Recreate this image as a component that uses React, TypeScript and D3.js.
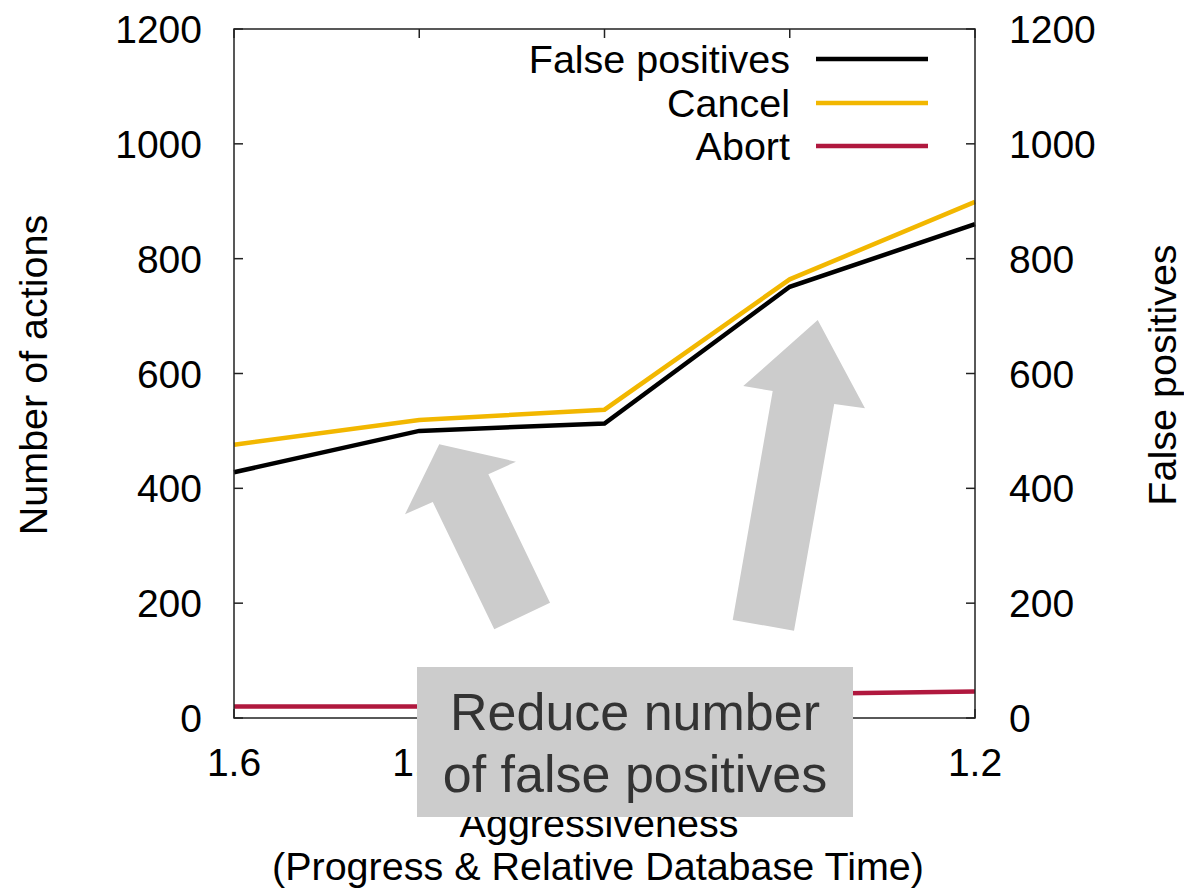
import React from "react";
import * as d3 from "d3";

const xValues = [1.6, 1.5, 1.4, 1.3, 1.2];
const falsePositives = [428, 500, 513, 751, 860];
const cancel = [476, 519, 537, 764, 899];
const abort = [20, 20, 28, 42, 46];

const yTicks = [0, 200, 400, 600, 800, 1000, 1200];
const xTicks = [1.6, 1.5, 1.4, 1.3, 1.2];
const xTickLabels = ["1.6", "1.5", "1.4", "1.3", "1.2"];

const seriesNames = ["False positives", "Cancel", "Abort"];
const seriesColors = ["#000000", "#f2b700", "#b0183e"];

// annotation arrows in data units (x = aggressiveness, y = count)
const arrow1X = [1.4892, 1.4478, 1.4627, 1.4294, 1.4595, 1.4927, 1.5077];
const arrow1Y = [476.7, 446.4, 424.4, 200.8, 154.5, 376.2, 354.8];
const arrow2X = [1.2849, 1.2594, 1.276, 1.2977, 1.3308, 1.3092, 1.3251];
const arrow2Y = [693.1, 539.4, 546.8, 152.0, 170.7, 569.5, 578.2];

const W = 1184;
const H = 890;
const left = 234;
const right = 975;
const top = 29;
const bottom = 718;
const FONT = "'Liberation Sans', Arial, Helvetica, sans-serif";
const FS = 39;
const FT = 39.5;

export default function App() {
  const x = d3.scaleLinear().domain([1.6, 1.2]).range([left, right]);
  const y = d3.scaleLinear().domain([0, 1200]).range([bottom, top]);

  const line = d3
    .line<number>()
    .x((_, i) => x(xValues[i]))
    .y((d) => y(d))
    .curve(d3.curveLinear);

  const series = [falsePositives, cancel, abort];
  const tickLen = 9;

  const arrowPath = (xs: number[], ys: number[]) =>
    "M" + xs.map((v, i) => `${x(v)},${y(ys[i])}`).join("L") + "Z";

  return (
    <svg
      width={W}
      height={H}
      style={{ position: "absolute", left: 0, top: 0, background: "#fff" }}
      fontFamily={FONT}
    >
      <rect x={0} y={0} width={W} height={H} fill="#fff" />
      {/* ticks */}
      <g stroke="#222" strokeWidth={1.5}>
        {yTicks.map((t) => (
          <g key={"y" + t}>
            <line x1={left} x2={left + tickLen} y1={y(t)} y2={y(t)} />
            <line x1={right} x2={right - tickLen} y1={y(t)} y2={y(t)} />
          </g>
        ))}
        {xTicks.map((t) => (
          <g key={"x" + t}>
            <line x1={x(t)} x2={x(t)} y1={bottom} y2={bottom - tickLen} />
            <line x1={x(t)} x2={x(t)} y1={top} y2={top + tickLen} />
          </g>
        ))}
      </g>
      {/* tick labels */}
      <g fontSize={FS} fill="#000">
        {yTicks.map((t) => (
          <g key={"yl" + t}>
            <text x={202} y={y(t)} dy="0.36em" textAnchor="end">
              {t}
            </text>
            <text x={1009} y={y(t)} dy="0.36em" textAnchor="start">
              {t}
            </text>
          </g>
        ))}
        {xTicks.map((t, i) => (
          <text key={"xl" + t} x={x(t)} y={776} textAnchor="middle">
            {xTickLabels[i]}
          </text>
        ))}
      </g>
      {/* axis titles */}
      <g fontSize={FT} fill="#000">
        <text
          transform={`translate(47,375) rotate(-90)`}
          textAnchor="middle"
        >
          Number of actions
        </text>
        <text
          transform={`translate(1176,375) rotate(-90)`}
          textAnchor="middle"
        >
          False positives
        </text>
        <text x={599} y={837} textAnchor="middle">
          Aggressiveness
        </text>
        <text x={598} y={880} textAnchor="middle">
          (Progress &amp; Relative Database Time)
        </text>
      </g>
      {/* data lines */}
      {series.map((s, i) => (
        <path
          key={seriesNames[i]}
          d={line(s) || ""}
          fill="none"
          stroke={seriesColors[i]}
          strokeWidth={4.5}
          strokeLinejoin="miter"
        />
      ))}
      {/* frame */}
      <rect
        x={left}
        y={top}
        width={right - left}
        height={bottom - top}
        fill="none"
        stroke="#222"
        strokeWidth={1.5}
      />
      {/* legend */}
      <g fontSize={FT}>
        {seriesNames.map((n, i) => {
          const ly = [59, 103, 146][i];
          return (
            <g key={"lg" + n}>
              <text x={790} y={ly} dy="0.36em" textAnchor="end" fill="#000">
                {n}
              </text>
              <line
                x1={816}
                x2={928}
                y1={ly}
                y2={ly}
                stroke={seriesColors[i]}
                strokeWidth={4.5}
              />
            </g>
          );
        })}
      </g>
      {/* arrows */}
      <path d={arrowPath(arrow1X, arrow1Y)} fill="#cccccc" />
      <path d={arrowPath(arrow2X, arrow2Y)} fill="#cccccc" />
      {/* annotation box */}
      <rect x={417} y={667} width={436} height={150} fill="#cccccc" />
      <g fontSize={52} fill="#333" textAnchor="middle">
        <text x={635} y={730}>
          Reduce number
        </text>
        <text x={635} y={792}>
          of false positives
        </text>
      </g>
    </svg>
  );
}
